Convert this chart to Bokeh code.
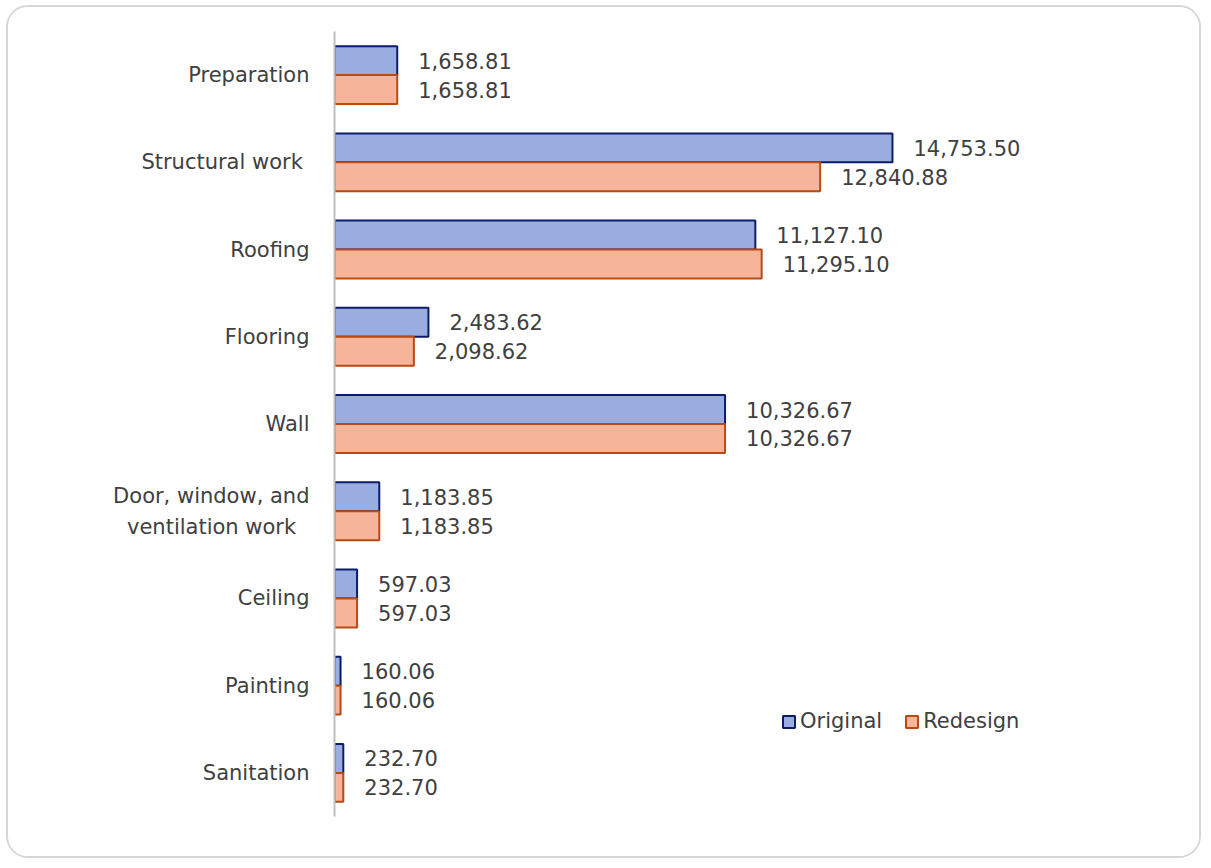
from bokeh.plotting import figure
from bokeh.models import ColumnDataSource, FactorRange, Range1d, Legend, LegendItem
from bokeh.transform import dodge
from bokeh.core.properties import value
from bokeh.embed import file_html
from bokeh.resources import INLINE

# Cost per work item, original design vs redesign
categories = [
    "Preparation",
    "Structural work ",
    "Roofing",
    "Flooring",
    "Wall",
    "Door, window, and\nventilation work  ",
    "Ceiling",
    "Painting",
    "Sanitation",
]
original = [1658.81, 14753.50, 11127.10, 2483.62, 10326.67, 1183.85, 597.03, 160.06, 232.70]
redesign = [1658.81, 12840.88, 11295.10, 2098.62, 10326.67, 1183.85, 597.03, 160.06, 232.70]
series_names = ["Original", "Redesign"]

FONT = "DejaVu Sans"
TEXT_COLOR = "#404040"
BLUE_FILL, BLUE_LINE = "#9aade1", "#0c1c6a"
ORANGE_FILL, ORANGE_LINE = "#f6b59b", "#b84a12"

src = ColumnDataSource(dict(
    cat=categories,
    original=original,
    redesign=redesign,
    original_txt=[f"{v:,.2f}" for v in original],
    redesign_txt=[f"{v:,.2f}" for v in redesign],
))

p = figure(
    width=1195, height=853,
    y_range=FactorRange(factors=categories[::-1], range_padding=0),
    x_range=Range1d(0, 21576),
    output_backend="svg", toolbar_location=None,
    min_border_left=326, min_border_right=53, min_border_top=24, min_border_bottom=44,
    outline_line_color=None,
)
p.styles = {
    "border": "2px solid #d6d6d6",
    "border-radius": "22px",
    "overflow": "hidden",
    "margin-left": "6px",
    "margin-top": "5px",
}
p.xaxis.visible = False
p.xgrid.visible = False
p.ygrid.visible = False

# category axis: gray spine, no ticks
p.yaxis.axis_line_color = "#bfbfbf"
p.yaxis.axis_line_width = 2
p.yaxis.major_tick_line_color = None
p.yaxis.minor_tick_line_color = None
p.yaxis.major_tick_out = 0
p.yaxis.major_tick_in = 0
p.yaxis.major_label_standoff = 25
p.yaxis.major_label_text_font = FONT
p.yaxis.major_label_text_font_size = "21px"
p.yaxis.major_label_text_color = TEXT_COLOR
p.yaxis.major_label_text_line_height = 1.3

bar_h = 0.332
r_orig = p.hbar(y=dodge("cat", bar_h / 2, range=p.y_range), left=0, right="original",
                height=bar_h, source=src, fill_color=BLUE_FILL,
                line_color=BLUE_LINE, line_width=2)
r_red = p.hbar(y=dodge("cat", -bar_h / 2, range=p.y_range), left=0, right="redesign",
               height=bar_h, source=src, fill_color=ORANGE_FILL,
               line_color=ORANGE_LINE, line_width=2)

# value labels just past each bar end
p.text(x="original", y=dodge("cat", bar_h / 2, range=p.y_range), text="original_txt",
       source=src, x_offset=21, text_align="left", text_baseline="middle",
       text_font=value(FONT), text_font_size="21px", text_color=TEXT_COLOR)
p.text(x="redesign", y=dodge("cat", -bar_h / 2, range=p.y_range), text="redesign_txt",
       source=src, x_offset=21, text_align="left", text_baseline="middle",
       text_font=value(FONT), text_font_size="21px", text_color=TEXT_COLOR)

legend = Legend(
    items=[LegendItem(label=series_names[0], renderers=[r_orig]),
           LegendItem(label=series_names[1], renderers=[r_red])],
    location=(447, 83), orientation="horizontal",
    border_line_color=None, background_fill_alpha=0,
    padding=0, margin=0, spacing=22, label_standoff=4,
    glyph_width=15, glyph_height=15,
    label_text_font=FONT, label_text_font_size="21px", label_text_color=TEXT_COLOR,
)
p.add_layout(legend, "center")

open("out.html", "w").write(file_html(p, INLINE))
